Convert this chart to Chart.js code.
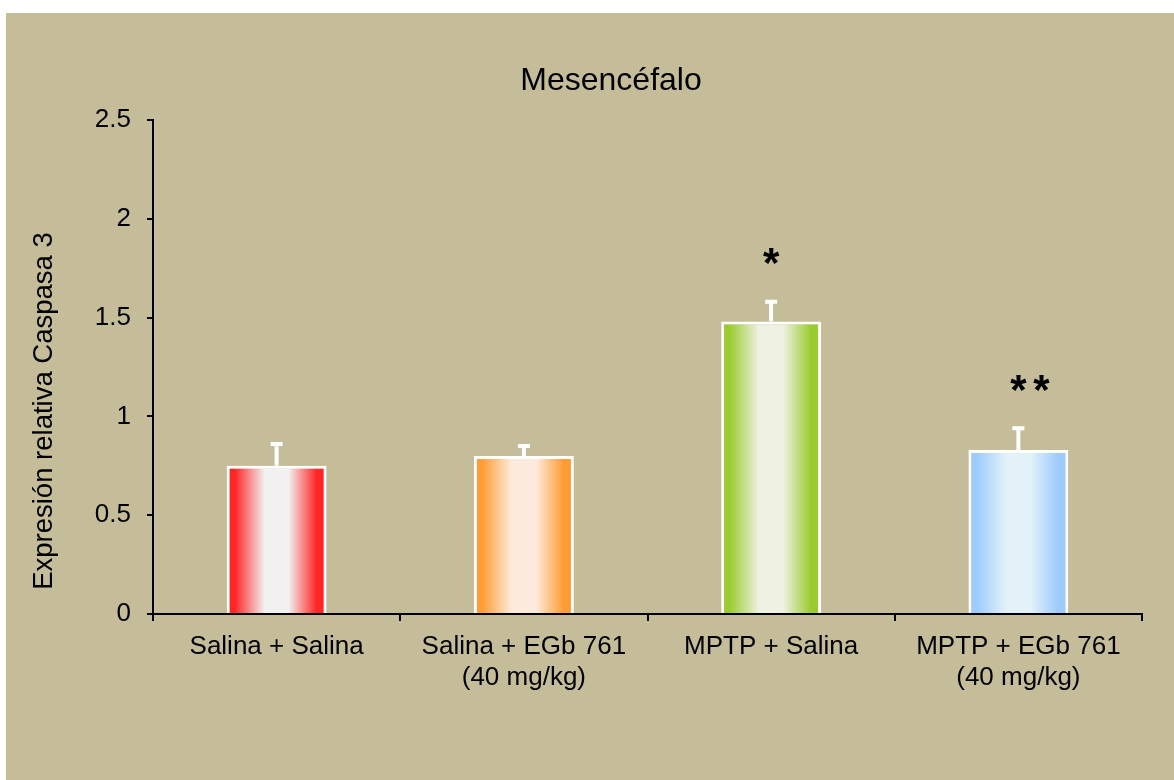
<!DOCTYPE html>
<html>
<head>
<meta charset="utf-8">
<title>Mesencéfalo</title>
<script src="https://cdn.jsdelivr.net/npm/chart.js@4/dist/chart.umd.min.js"></script>
<style>
    html, body { margin: 0; padding: 0; background: #ffffff; }
    #grafico { position: absolute; left: 6px; top: 13px; }
</style>
</head>
<body>
<canvas id="grafico" width="1168" height="767"></canvas>
<script>
// Datos: expresión relativa de Caspasa 3 en mesencéfalo
const grupos = ['Salina + Salina', ['Salina + EGb 761', '(40 mg/kg)'], 'MPTP + Salina', ['MPTP + EGb 761', '(40 mg/kg)']];
const medias = [0.75, 0.80, 1.48, 0.83];
const errores = [0.11, 0.05, 0.10, 0.11];
const significancia = ['', '', '*', '**'];
const ticksY = [0, 0.5, 1, 1.5, 2, 2.5];

// Colores del borde y del centro de cada barra (degradado horizontal)
const coloresBorde = ['#FF2626', '#FF9C33', '#9ACB30', '#9DCBFB'];
const coloresCentro = ['#F2F0F0', '#FCEBDD', '#EFF1E2', '#E3F1F8'];

const FUENTE = "'Liberation Sans', Arial, sans-serif";
const ANCHO_BARRA = 0.404;
const TAM_AST = 42;

// Degradado tipo cilindro para cada barra
function degradadoBarra(ctx) {
    const chart = ctx.chart;
    const i = ctx.dataIndex;
    const area = chart.chartArea;
    const x = chart.scales.x;
    if (!area || !x) return coloresBorde[i];
    const centro = x.getPixelForValue(i);
    const ancho = (area.right - area.left) / grupos.length * ANCHO_BARRA;
    const g = chart.ctx.createLinearGradient(centro - ancho / 2, 0, centro + ancho / 2, 0);
    g.addColorStop(0, coloresBorde[i]);
    g.addColorStop(0.08, coloresBorde[i]);
    g.addColorStop(0.38, coloresCentro[i]);
    g.addColorStop(0.62, coloresCentro[i]);
    g.addColorStop(0.9, coloresBorde[i]);
    g.addColorStop(1, coloresBorde[i]);
    return g;
}

// Fondo, títulos, barras de error y asteriscos
const extras = {
    id: 'extras',
    beforeDraw(chart) {
        const ctx = chart.ctx;
        ctx.save();
        ctx.fillStyle = '#C5BD99';
        ctx.fillRect(0, 0, chart.width, chart.height);
        ctx.restore();
    },
    afterDatasetsDraw(chart) {
        const ctx = chart.ctx;
        const x = chart.scales.x;
        const y = chart.scales.y;
        ctx.save();

        // Barras de error (solo hacia arriba)
        ctx.strokeStyle = '#FFFFFF';
        ctx.lineWidth = 4;
        medias.forEach((m, i) => {
            const cx = x.getPixelForValue(i);
            const y0 = y.getPixelForValue(m);
            const y1 = y.getPixelForValue(m + errores[i]);
            ctx.beginPath();
            ctx.moveTo(cx, y0);
            ctx.lineTo(cx, y1);
            ctx.moveTo(cx - 6, y1);
            ctx.lineTo(cx + 6, y1);
            ctx.stroke();
        });

        // Asteriscos de significancia
        ctx.fillStyle = '#000000';
        ctx.font = 'bold ' + TAM_AST + 'px ' + FUENTE;
        ctx.textAlign = 'left';
        ctx.textBaseline = 'alphabetic';
        const anchoAst = ctx.measureText('*').width;
        ctx.letterSpacing = (23 - anchoAst) + 'px';
        significancia.forEach((s, i) => {
            if (!s) return;
            const cx = x.getPixelForValue(i);
            const yc = y.getPixelForValue(medias[i] + errores[i]) - 41;
            ctx.fillText(s, cx - anchoAst / 2, yc + 0.39 * TAM_AST);
        });
        ctx.letterSpacing = '0px';

        // Título del gráfico
        ctx.font = '32px ' + FUENTE;
        ctx.textAlign = 'center';
        ctx.textBaseline = 'middle';
        ctx.fillText('Mesencéfalo', 605, 68);

        // Título del eje Y
        ctx.font = '27.5px ' + FUENTE;
        ctx.translate(38, 398);
        ctx.rotate(-Math.PI / 2);
        ctx.fillText('Expresión relativa Caspasa 3', 0, 0);
        ctx.restore();
    }
};

new Chart(document.getElementById('grafico'), {
    type: 'bar',
    data: {
        labels: grupos,
        datasets: [{
            data: medias,
            backgroundColor: degradadoBarra,
            borderColor: '#FFFFFF',
            borderWidth: 3,
            borderSkipped: 'start',
            barPercentage: ANCHO_BARRA,
            categoryPercentage: 1
        }]
    },
    options: {
        responsive: false,
        animation: false,
        devicePixelRatio: 1,
        layout: { padding: { left: 0, right: 32, top: 107, bottom: 0 } },
        plugins: {
            legend: { display: false },
            title: { display: false },
            tooltip: { enabled: false }
        },
        scales: {
            x: {
                z: 1,
                grid: {
                    display: true,
                    drawOnChartArea: false,
                    drawTicks: true,
                    tickLength: 7,
                    color: '#000000',
                    lineWidth: 2
                },
                border: { display: true, color: '#000000', width: 2 },
                ticks: {
                    color: '#000000',
                    padding: 10,
                    font: { family: FUENTE, size: 26 },
                    maxRotation: 0,
                    autoSkip: false
                },
                afterFit(scale) { scale.height = 166; }
            },
            y: {
                min: 0,
                max: 2.5,
                afterBuildTicks(scale) {
                    scale.ticks = ticksY.map(v => ({ value: v }));
                },
                grid: {
                    display: true,
                    drawOnChartArea: false,
                    drawTicks: true,
                    tickLength: 6,
                    color: '#000000',
                    lineWidth: 2
                },
                border: { display: true, color: '#000000', width: 2 },
                ticks: {
                    color: '#000000',
                    padding: 16,
                    font: { family: FUENTE, size: 26 },
                    callback: v => String(v)
                },
                afterFit(scale) { scale.width = 147; }
            }
        }
    },
    plugins: [extras]
});
</script>
</body>
</html>
